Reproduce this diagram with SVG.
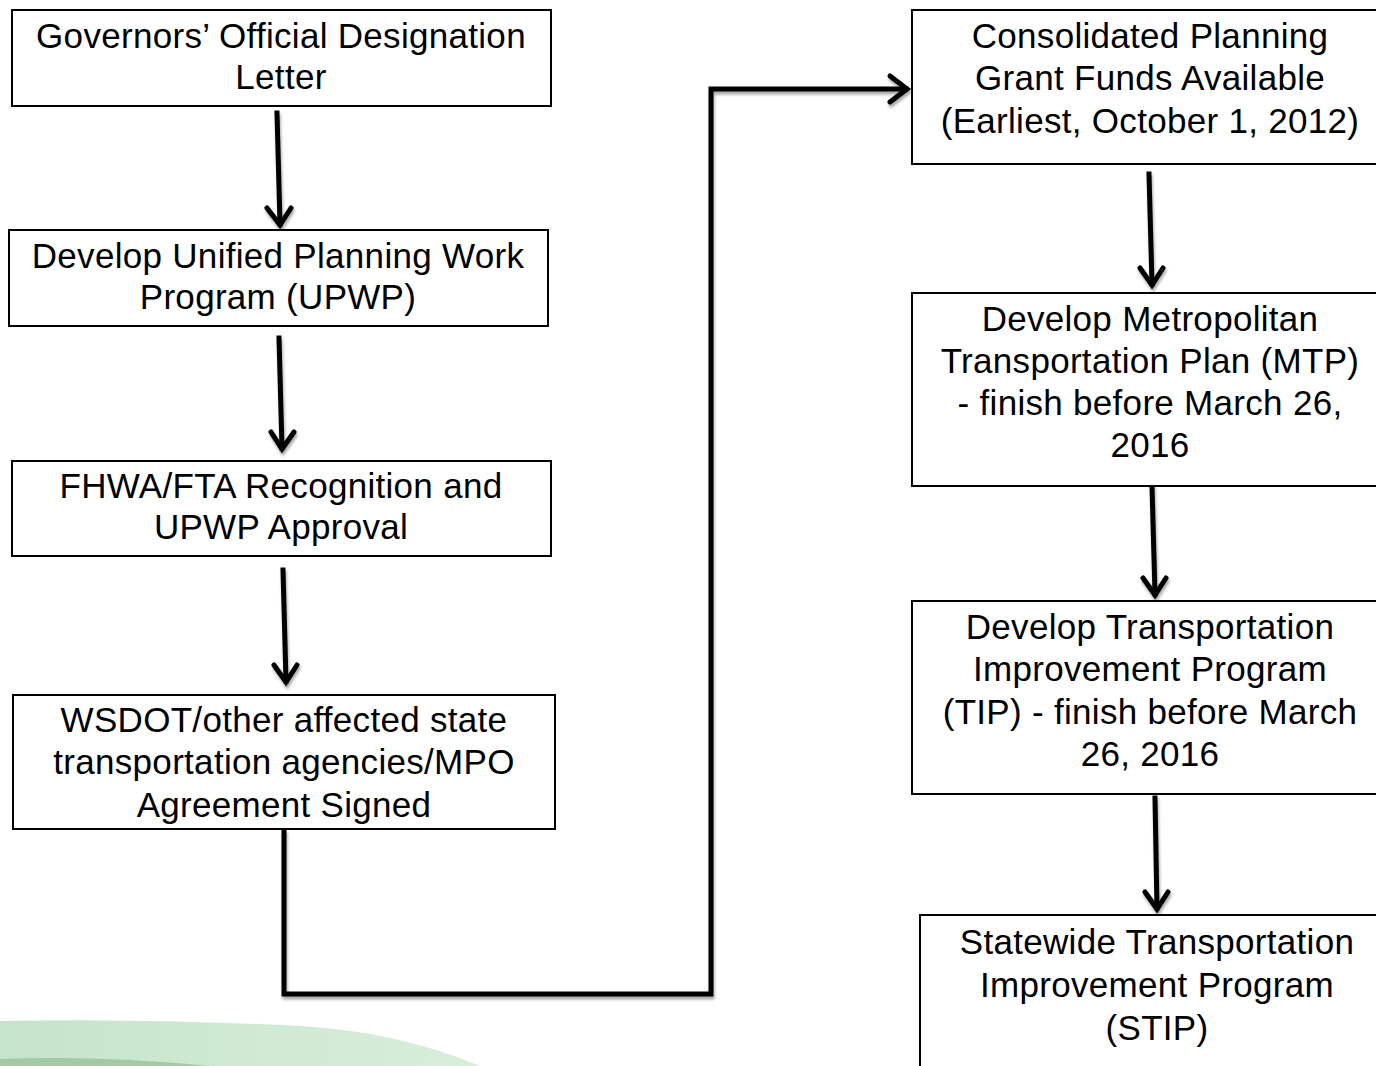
<svg xmlns="http://www.w3.org/2000/svg" width="1376" height="1066" viewBox="0 0 1376 1066">
<defs>
<style>
.box{fill:#fff;stroke:#000;stroke-width:2}
.t{font-family:"Liberation Sans",Arial,sans-serif;font-size:35px;letter-spacing:0.3px;fill:#000;text-anchor:middle}
.c{fill:none;stroke:#000;stroke-width:5;stroke-linecap:square;stroke-linejoin:miter}
.h{fill:none;stroke:#000;stroke-width:5;stroke-linecap:round;stroke-linejoin:miter}
</style>
<filter id="sh" x="-10%" y="-10%" width="130%" height="130%">
<feGaussianBlur in="SourceAlpha" stdDeviation="1.5"/>
<feOffset dx="1" dy="3" result="b"/>
<feComponentTransfer><feFuncA type="linear" slope="0.35"/></feComponentTransfer>
<feMerge><feMergeNode/><feMergeNode in="SourceGraphic"/></feMerge>
</filter>
<linearGradient id="g1" x1="0" y1="0" x2="1" y2="0">
<stop offset="0" stop-color="#c6e4c9"/>
<stop offset="1" stop-color="#d8eedb"/>
</linearGradient>
</defs>
<rect width="1376" height="1066" fill="#fff"/>
<g id="swoosh">
<path d="M0 1021 Q150 1018 300 1026 Q400 1032 480 1066 L0 1066 Z" fill="url(#g1)"/>
<path d="M0 1059 Q100 1055 210 1066 L0 1066 Z" fill="#a3cba2"/>
</g>
<g id="connectors" filter="url(#sh)">
<path class="c" d="M277 113 L280 224"/><path class="h" d="M267 208 L280 225 L291 208"/>
<path class="c" d="M279 338 L282 448"/><path class="h" d="M271 432 L282 449 L294 432"/>
<path class="c" d="M283 570 L286 681"/><path class="h" d="M274 665 L286 682 L297 665"/>
<path class="c" d="M284 832 L284 994 L711 994 L711 89 L906 89"/><path class="h" d="M890 76 L907 89 L890 102"/>
<path class="c" d="M1149 174 L1152 284"/><path class="h" d="M1140 268 L1152 285 L1163 268"/>
<path class="c" d="M1152 486 L1155 594"/><path class="h" d="M1143 578 L1155 595 L1166 578"/>
<path class="c" d="M1155 798 L1157 908"/><path class="h" d="M1145 892 L1157 909 L1168 892"/>
</g>
<g id="n1"><rect class="box" x="12" y="10" width="539" height="96"/>
<text class="t" x="281" y="48">Governors’ Official Designation</text><text class="t" x="281" y="89">Letter</text></g>
<g id="n2"><rect class="box" x="9" y="230" width="539" height="96"/>
<text class="t" x="278" y="268">Develop Unified Planning Work</text><text class="t" x="278" y="309">Program (UPWP)</text></g>
<g id="n3"><rect class="box" x="12" y="461" width="539" height="95"/>
<text class="t" x="281" y="498">FHWA/FTA Recognition and</text><text class="t" x="281" y="539">UPWP Approval</text></g>
<g id="n4"><rect class="box" x="13" y="695" width="542" height="134"/>
<text class="t" x="284" y="732">WSDOT/other affected state</text><text class="t" x="284" y="774">transportation agencies/MPO</text><text class="t" x="284" y="817">Agreement Signed</text></g>
<g id="n5"><rect class="box" x="912" y="10" width="470" height="154"/>
<text class="t" x="1150" y="48">Consolidated Planning</text><text class="t" x="1150" y="90">Grant Funds Available</text><text class="t" x="1150" y="133">(Earliest, October 1, 2012)</text></g>
<g id="n6"><rect class="box" x="912" y="293" width="470" height="193"/>
<text class="t" x="1150" y="331">Develop Metropolitan</text><text class="t" x="1150" y="373">Transportation Plan (MTP)</text><text class="t" x="1150" y="415">- finish before March 26,</text><text class="t" x="1150" y="457">2016</text></g>
<g id="n7"><rect class="box" x="912" y="601" width="470" height="193"/>
<text class="t" x="1150" y="639">Develop Transportation</text><text class="t" x="1150" y="681">Improvement Program</text><text class="t" x="1150" y="724">(TIP) - finish before March</text><text class="t" x="1150" y="766">26, 2016</text></g>
<g id="n8"><rect class="box" x="920" y="915" width="470" height="160"/>
<text class="t" x="1157" y="954">Statewide Transportation</text><text class="t" x="1157" y="997">Improvement Program</text><text class="t" x="1157" y="1040">(STIP)</text></g>
</svg>
